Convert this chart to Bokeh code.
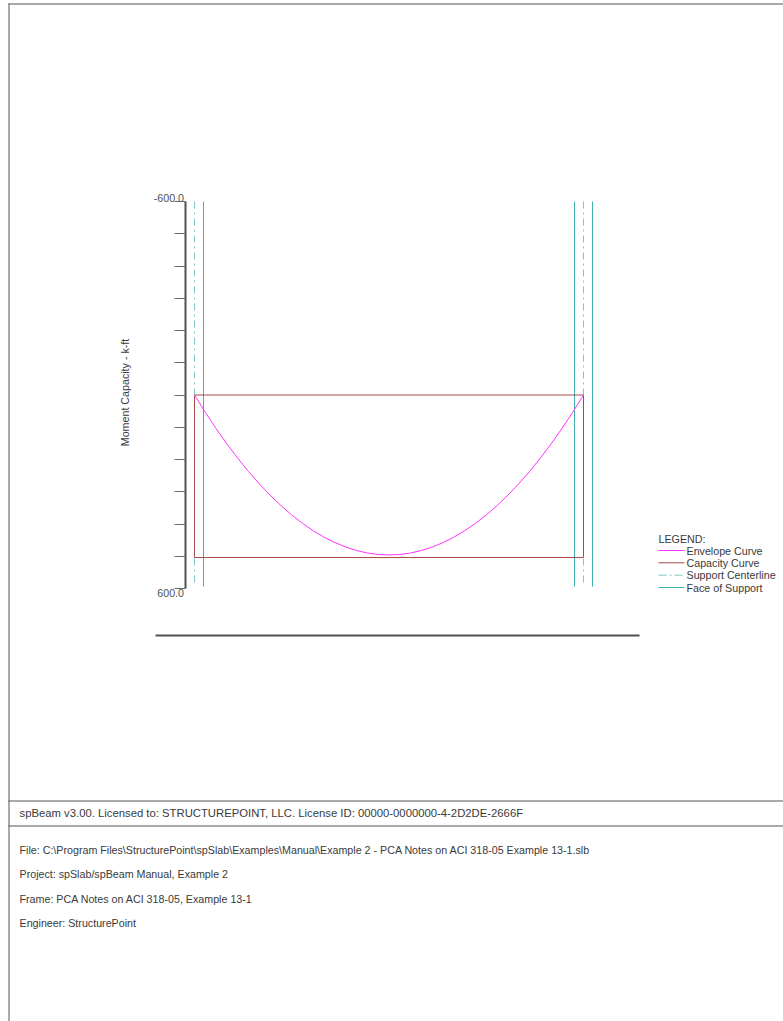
import math
from bokeh.plotting import figure
from bokeh.models import Range1d, LinearAxis, FixedTicker, CustomLabelingPolicy
from bokeh.core.properties import value
from bokeh.embed import file_html
from bokeh.resources import INLINE

# ---------------- data ----------------
span_ft = 18.0
support_x = [0.0, 18.0]            # support centerlines (ft)
face_half = 0.4167                 # half column width (ft)

env_x = [0.0, 0.5, 1.0, 1.5, 2.0, 2.5, 3.0, 3.5, 4.0, 4.5, 5.0, 5.5, 6.0, 6.5,
         7.0, 7.5, 8.0, 8.5, 9.0, 9.5, 10.0, 10.5, 11.0, 11.5, 12.0, 12.5,
         13.0, 13.5, 14.0, 14.5, 15.0, 15.5, 16.0, 16.5, 17.0, 17.5, 18.0]
env_m = [0.0, 53.6, 104.1, 151.6, 196.0, 237.3, 275.6, 310.8, 342.9, 372.0,
         398.0, 421.0, 440.9, 457.7, 471.5, 482.2, 489.9, 494.5, 496.0, 494.5,
         489.9, 482.2, 471.5, 457.7, 440.9, 421.0, 398.0, 372.0, 342.9, 310.8,
         275.6, 237.3, 196.0, 151.6, 104.1, 53.6, 0.0]

cap_x = [0.0, 18.0]
cap_neg = [0.0, 0.0]
cap_pos = [504.0, 504.0]

support_line_top = -600.0
support_line_bottom = 594.0

y_ticks = [-600, -500, -400, -300, -200, -100, 0, 100, 200, 300, 400, 500, 600]
y_end_values = [-600, 600]
y_end_labels = ["-600.0", "600.0"]
axis_title = "Moment Capacity - k-ft"

legend_title = "LEGEND:"
legend_labels = ["Envelope Curve", "Capacity Curve", "Support Centerline", "Face of Support"]

license_text = "spBeam v3.00. Licensed to: STRUCTUREPOINT, LLC. License ID: 00000-0000000-4-2D2DE-2666F"
info_lines = [
    "File: C:\\Program Files\\StructurePoint\\spSlab\\Examples\\Manual\\Example 2 - PCA Notes on ACI 318-05 Example 13-1.slb",
    "Project: spSlab/spBeam Manual, Example 2",
    "Frame: PCA Notes on ACI 318-05, Example 13-1",
    "Engineer: StructurePoint",
]

# ---------------- layout ----------------
W, H = 783, 1021
OFF = 0
sx = (583.0 - 194.0) / span_ft          # px per ft
sy = (588.0 - 201.0) / 1200.0           # px per k-ft
x_start = 0.0 - (194.0 - OFF) / sx
x_end = x_start + W / sx
y_top = -600.0 - (201.0 - OFF) / sy
y_bot = y_top + H / sy


def X(px):
    return x_start + (px - OFF) / sx


def Y(py):
    return y_top + (py - OFF) / sy


FONT = value("Liberation Sans")
FS = "10.7px"
TXT = "#3a3a3a"
MAGENTA = "#FF33FF"
CAP = "#A84A4A"
CL = "#80C8C8"
FACE = "#3FAFAF"
DASHDOT = "7 4 2 4"

p = figure(width=W, height=H, x_range=Range1d(x_start, x_end),
           y_range=Range1d(y_bot, y_top), output_backend="svg",
           toolbar_location=None, min_border=0, x_axis_type=None,
           y_axis_type=None, outline_line_color=None,
           background_fill_color="white", border_fill_color="white")

# page borders / separators
p.segment(x0=[X(8.5)], y0=[Y(3)], x1=[X(8.5)], y1=[Y(1021)], line_color="#555555", line_width=1)
p.segment(x0=[X(8)], y0=[Y(3.5)], x1=[X(783)], y1=[Y(3.5)], line_color="#555555", line_width=1)
p.segment(x0=[X(8), X(8)], y0=[Y(800.5), Y(825.5)], x1=[X(783), X(783)],
          y1=[Y(800.5), Y(825.5)], line_color="#555555", line_width=1)

# axis (ticks only; end labels drawn as text below)
ax = LinearAxis(fixed_location=X(184.5), ticker=FixedTicker(ticks=y_ticks),
                bounds=(-600, 600),
                major_label_policy=CustomLabelingPolicy(
                    code="for (const i of indices) { if (i < 0) yield i }"))
ax.axis_line_width = 2
ax.axis_line_color = "#505050"
ax.major_tick_line_color = "#6a6a6a"
ax.major_tick_out = 11
ax.major_tick_in = 0
ax.minor_tick_out = 0
ax.minor_tick_in = 0
ax.major_label_text_font = "Liberation Sans"
ax.major_label_text_font_size = FS
p.add_layout(ax, "left")

p.text(x=[X(183.5)], y=[y_end_values[0]], text=[y_end_labels[0]], text_font=FONT,
       text_font_size=FS, text_color="#505050", text_align="right", text_baseline="bottom")
p.text(x=[X(183.5)], y=[y_end_values[1]], text=[y_end_labels[1]], text_font=FONT,
       text_font_size=FS, text_color="#505050", text_align="right", text_baseline="top")
p.text(x=[X(124.5)], y=[Y(392)], text=[axis_title], angle=math.pi / 2, text_font=FONT,
       text_font_size=FS, text_color=TXT, text_align="center", text_baseline="middle")

# support centerlines and faces
p.segment(x0=support_x, y0=[support_line_top] * 2, x1=support_x, y1=[support_line_bottom] * 2,
          line_color=CL, line_width=1, line_dash=DASHDOT)
faces = [support_x[0] - face_half, support_x[0] + face_half,
         support_x[1] - face_half, support_x[1] + face_half]
p.segment(x0=faces, y0=[support_line_top] * 4, x1=faces, y1=[support_line_bottom] * 4,
          line_color=FACE, line_width=1)

# capacity curve
cx = [cap_x[0], cap_x[1], cap_x[1], cap_x[0], cap_x[0]]
cy = [cap_neg[0], cap_neg[1], cap_pos[1], cap_pos[0], cap_neg[0]]
p.line(cx, cy, line_color=CAP, line_width=1)

# envelope curve
p.line(env_x, env_m, line_color=MAGENTA, line_width=1)

# baseline under chart
p.segment(x0=[X(155)], y0=[Y(635)], x1=[X(639)], y1=[Y(635)], line_color="#505050", line_width=2)

# legend
p.text(x=[X(658)], y=[Y(538.5)], text=[legend_title], text_font=FONT, text_font_size=FS,
       text_color=TXT, text_align="left", text_baseline="middle")
rows = [550, 562.3, 574.7, 587]
styles = [(MAGENTA, "solid"), (CAP, "solid"), (CL, "8 3 2 3"), (FACE, "solid")]
for r, (col, dash), lab in zip(rows, styles, legend_labels):
    p.segment(x0=[X(658)], y0=[Y(r)], x1=[X(684)], y1=[Y(r)], line_color=col,
              line_width=1, line_dash=dash)
p.text(x=[X(686)] * 4, y=[Y(r) for r in rows], text=legend_labels, text_font=FONT,
       text_font_size=FS, text_color=TXT, text_align="left", text_baseline="middle")

# footer
p.text(x=[X(19)], y=[Y(812.5)], text=[license_text], text_font=FONT, text_font_size="11.3px",
       text_color=TXT, text_align="left", text_baseline="middle")
info_rows = [849, 873.5, 898, 922.5]
p.text(x=[X(19)] * 4, y=[Y(r) for r in info_rows], text=info_lines, text_font=FONT,
       text_font_size=FS, text_color=TXT, text_align="left", text_baseline="middle")

open("out.html", "w").write(file_html(p, INLINE))
